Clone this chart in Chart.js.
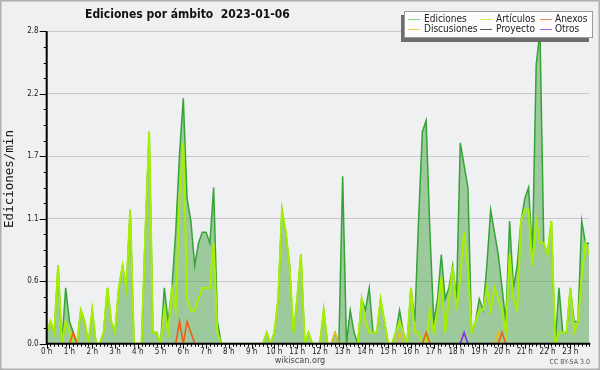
<!DOCTYPE html>
<html>
<head>
<meta charset="utf-8">
<script src="https://cdn.jsdelivr.net/npm/chart.js@4.4.1/dist/chart.umd.min.js"></script>
<style>
  html, body { margin: 0; padding: 0; background: #eff0f2; }
  canvas { display: block; }
</style>
</head>
<body>
<canvas id="chart" width="600" height="370"></canvas>
<script>
// 10-minute bins, 144 per day, values in edits/min
const ediciones = [
  0.1, 0.2, 0.1, 0.7, 0, 0.5, 0.2, 0.1, 0, 0.3, 0.2, 0,
  0.3, 0, 0, 0.1, 0.5, 0.2, 0.1, 0.5, 0.7, 0.5, 1.2, 0,
  0, 0, 1.0, 1.9, 0.1, 0.1, 0, 0.5, 0.2, 0.5, 1.0, 1.7,
  2.2, 1.3, 1.1, 0.7, 0.9, 1.0, 1.0, 0.9, 1.4, 0.2, 0, 0,
  0, 0, 0, 0, 0, 0, 0, 0, 0, 0, 0.1, 0,
  0.1, 0.4, 1.2, 1.0, 0.7, 0.1, 0.4, 0.8, 0, 0.1, 0, 0,
  0, 0.3, 0, 0, 0.1, 0, 1.5, 0, 0.3, 0.1, 0, 0.4,
  0.3, 0.5, 0.1, 0.1, 0.4, 0.2, 0, 0, 0.1, 0.3, 0.1, 0,
  0.5, 0.2, 1.1, 1.9, 2.0, 1.0, 0.2, 0.4, 0.8, 0.4, 0.5, 0.7,
  0.4, 1.8, 1.6, 1.4, 0.1, 0.2, 0.4, 0.3, 0.7, 1.2, 1.0, 0.8,
  0.5, 0.2, 1.1, 0.5, 0.7, 1.1, 1.3, 1.4, 0.8, 2.5, 2.8, 0.9,
  0.8, 1.1, 0, 0.5, 0.1, 0.1, 0.5, 0.2, 0.2, 1.1, 0.9, 0.9
];
const articulos = [
  0.1, 0.2, 0.1, 0.7, 0, 0.2, 0.1, 0, 0, 0.3, 0.2, 0,
  0.3, 0, 0, 0.1, 0.5, 0.2, 0.1, 0.5, 0.7, 0.5, 1.2, 0,
  0, 0, 1.0, 1.9, 0.1, 0.1, 0, 0.3, 0.1, 0.5, 0.3, 1.3,
  1.8, 0.4, 0.3, 0.3, 0.4, 0.5, 0.5, 0.5, 0.9, 0.1, 0, 0,
  0, 0, 0, 0, 0, 0, 0, 0, 0, 0, 0.1, 0,
  0.1, 0.4, 1.2, 1.0, 0.7, 0.1, 0.4, 0.8, 0, 0.1, 0, 0,
  0, 0.3, 0, 0, 0, 0, 0, 0, 0, 0, 0, 0.4,
  0.2, 0.1, 0.1, 0.1, 0.4, 0.2, 0, 0, 0.1, 0.2, 0.1, 0,
  0.5, 0.1, 0.1, 0, 0, 0.3, 0.1, 0.3, 0.6, 0.1, 0.4, 0.7,
  0.3, 0.6, 1.0, 0.7, 0.1, 0.2, 0.3, 0.3, 0.5, 0.3, 0.5, 0.4,
  0.3, 0.1, 0.8, 0.4, 0.3, 1.1, 1.2, 1.2, 0.7, 1.1, 0.9, 0.9,
  0.8, 1.1, 0, 0.1, 0.1, 0.1, 0.5, 0.1, 0.2, 0.6, 0.9, 0.8
];
const anexos = [
  0, 0, 0, 0, 0, 0, 0, 0.1, 0, 0, 0, 0,
  0, 0, 0, 0, 0, 0, 0, 0, 0, 0, 0, 0,
  0, 0, 0, 0, 0, 0, 0, 0, 0, 0, 0, 0.2,
  0, 0.2, 0.1, 0, 0, 0, 0, 0, 0, 0, 0, 0,
  0, 0, 0, 0, 0, 0, 0, 0, 0, 0, 0, 0,
  0, 0, 0, 0, 0, 0, 0, 0, 0, 0, 0, 0,
  0, 0, 0, 0, 0, 0, 0, 0, 0, 0, 0, 0,
  0, 0, 0, 0, 0, 0, 0, 0, 0, 0, 0, 0,
  0, 0, 0, 0, 0.1, 0, 0, 0, 0, 0, 0, 0,
  0, 0, 0, 0, 0, 0, 0, 0, 0, 0, 0, 0,
  0.1, 0, 0, 0, 0, 0, 0, 0, 0, 0, 0, 0,
  0, 0, 0, 0, 0, 0, 0, 0, 0, 0, 0, 0
];
const discusiones = [
  0, 0, 0, 0, 0, 0, 0, 0, 0, 0, 0, 0,
  0, 0, 0, 0, 0, 0, 0, 0, 0, 0, 0, 0,
  0, 0, 0, 0, 0, 0, 0, 0, 0, 0, 0, 0,
  0, 0, 0, 0, 0, 0, 0, 0, 0, 0, 0, 0,
  0, 0, 0, 0, 0, 0, 0, 0, 0, 0, 0, 0,
  0, 0, 0, 0, 0, 0, 0, 0, 0, 0, 0, 0,
  0, 0, 0, 0, 0.1, 0, 0, 0, 0, 0, 0, 0,
  0, 0, 0, 0, 0, 0, 0, 0, 0, 0.1, 0, 0,
  0, 0, 0, 0, 0, 0, 0, 0, 0, 0, 0, 0,
  0, 0, 0, 0, 0, 0, 0, 0, 0, 0, 0, 0.1,
  0, 0, 0, 0, 0, 0, 0, 0, 0, 0, 0, 0,
  0, 0, 0, 0, 0, 0, 0, 0, 0, 0, 0, 0
];
const proyecto = [
  0, 0, 0, 0, 0, 0, 0, 0, 0, 0, 0, 0,
  0, 0, 0, 0, 0, 0, 0, 0, 0, 0, 0, 0,
  0, 0, 0, 0, 0, 0, 0, 0, 0, 0, 0, 0,
  0, 0, 0, 0, 0, 0, 0, 0, 0, 0, 0, 0,
  0, 0, 0, 0, 0, 0, 0, 0, 0, 0, 0, 0,
  0, 0, 0, 0, 0, 0, 0, 0, 0, 0, 0, 0,
  0, 0, 0, 0, 0, 0, 0, 0, 0, 0, 0, 0,
  0, 0, 0, 0, 0, 0, 0, 0, 0, 0, 0, 0,
  0, 0, 0, 0, 0, 0, 0, 0, 0, 0, 0, 0,
  0, 0, 0, 0, 0, 0, 0, 0, 0, 0, 0, 0,
  0, 0, 0, 0, 0, 0, 0, 0, 0, 0, 0, 0,
  0, 0, 0, 0, 0, 0, 0, 0, 0, 0, 0, 0
];
const otros = [
  0, 0, 0, 0, 0, 0, 0, 0, 0, 0, 0, 0,
  0, 0, 0, 0, 0, 0, 0, 0, 0, 0, 0, 0,
  0, 0, 0, 0, 0, 0, 0, 0, 0, 0, 0, 0,
  0, 0, 0, 0, 0, 0, 0, 0, 0, 0, 0, 0,
  0, 0, 0, 0, 0, 0, 0, 0, 0, 0, 0, 0,
  0, 0, 0, 0, 0, 0, 0, 0, 0, 0, 0, 0,
  0, 0, 0, 0, 0, 0, 0, 0, 0, 0, 0, 0,
  0, 0, 0, 0, 0, 0, 0, 0, 0, 0, 0, 0,
  0, 0, 0, 0, 0, 0, 0, 0, 0, 0, 0, 0,
  0, 0, 0.1, 0, 0, 0, 0, 0, 0, 0, 0, 0,
  0, 0, 0, 0, 0, 0, 0, 0, 0, 0, 0, 0,
  0, 0, 0, 0, 0, 0, 0, 0, 0, 0, 0, 0
];

const seriesNames = ["Ediciones", "Artículos", "Anexos", "Discusiones", "Proyecto", "Otros"];
const titleText = "Ediciones por ámbito  2023-01-06";
const yTitle = "Ediciones/min";
const yMax = 2.8;
const yStep = 0.14;      // minor step, labels every 4th
const binsPerHour = 6;

const COND = '"DejaVu Sans Condensed", "DejaVu Sans", sans-serif';

const toPoints = (arr) => arr.map((v, i) => ({ x: i, y: v }));

/* ---------- plugins ---------- */
const background = {
  id: "background",
  beforeDraw(chart) {
    const { ctx, width, height } = chart;
    ctx.save();
    ctx.fillStyle = "#eff0f2";
    ctx.fillRect(0, 0, width, height);
    ctx.restore();
  },
};

const axisLines = {
  id: "axisLines",
  afterDatasetsDraw(chart) {
    const { ctx, chartArea: a, scales } = chart;
    const x = scales.x, y = scales.y;
    ctx.save();
    ctx.strokeStyle = "#000";
    ctx.lineWidth = 1;
    ctx.beginPath();
    x.ticks.forEach((t) => {
      const px = Math.round(x.getPixelForValue(t.value)) + 0.5;
      const len = t.value % binsPerHour === 0 ? 5 : 3;
      ctx.moveTo(px, a.bottom);
      ctx.lineTo(px, a.bottom + len);
    });
    y.ticks.forEach((t, i) => {
      const py = Math.round(y.getPixelForValue(t.value)) + 0.5;
      const len = i % 4 === 0 ? 7 : 3;
      ctx.moveTo(a.left - len, py);
      ctx.lineTo(a.left, py);
    });
    ctx.stroke();
    ctx.lineWidth = 2;
    ctx.beginPath();
    ctx.moveTo(a.left, a.top);
    ctx.lineTo(a.left, a.bottom);
    ctx.lineTo(a.right + 1, a.bottom);
    ctx.stroke();
    ctx.restore();
  },
};

const decorations = {
  id: "decorations",
  afterDraw(chart) {
    const { ctx, width, height } = chart;
    ctx.save();

    // title
    ctx.fillStyle = "#111";
    ctx.font = "bold 12px " + COND;
    ctx.textAlign = "left";
    ctx.textBaseline = "alphabetic";
    ctx.fillText(titleText, 85, 18);

    // y axis title
    ctx.save();
    ctx.translate(10, 179);
    ctx.rotate(-Math.PI / 2);
    ctx.textAlign = "center";
    ctx.textBaseline = "middle";
    ctx.font = '12.5px "DejaVu Sans Mono", monospace';
    ctx.fillText(yTitle, 0, 0);
    ctx.restore();

    // legend box with shadow
    ctx.fillStyle = "#6e6e6e";
    ctx.fillRect(401, 15, 188, 27);
    ctx.fillStyle = "#fcfcfc";
    ctx.fillRect(404.5, 11.5, 188, 26);
    ctx.strokeStyle = "#9a9a9a";
    ctx.lineWidth = 1;
    ctx.strokeRect(404.5, 11.5, 188, 26);

    const colX = [408, 480, 540];
    const textX = [424, 496, 555];
    const rowY = [19, 29];
    ctx.font = "10px " + COND;
    ctx.textBaseline = "middle";
    chart.data.datasets.forEach((ds, k) => {
      const c = k % 3, r = Math.floor(k / 3);
      ctx.strokeStyle = ds.swatch;
      ctx.beginPath();
      ctx.moveTo(colX[c], rowY[r] + 0.5);
      ctx.lineTo(colX[c] + 12, rowY[r] + 0.5);
      ctx.stroke();
      ctx.fillStyle = "#222";
      ctx.fillText(ds.label, textX[c], rowY[r] + 0.5);
    });

    // footer
    ctx.textBaseline = "alphabetic";
    ctx.textAlign = "center";
    ctx.fillStyle = "#444";
    ctx.font = "9px " + COND;
    ctx.fillText("wikiscan.org", 300, 363);
    ctx.textAlign = "right";
    ctx.fillStyle = "#555";
    ctx.font = "7px " + COND;
    ctx.fillText("CC BY-SA 3.0", 590, 364);

    // frame
    ctx.strokeStyle = "#b0b0b0";
    ctx.lineWidth = 1.5;
    ctx.strokeRect(0.75, 0.75, width - 1.5, height - 1.5);
    ctx.restore();
  },
};

/* ---------- chart ---------- */
const lineBase = { pointRadius: 0, borderWidth: 1.6, tension: 0, fill: false };

new Chart(document.getElementById("chart"), {
  type: "line",
  data: {
    datasets: [
      { ...lineBase, label: seriesNames[0], data: toPoints(ediciones), order: 3,
        borderColor: "#34a434", backgroundColor: "rgba(40,150,40,0.42)", fill: "origin",
        borderWidth: 1.5, swatch: "#86d486" },
      { ...lineBase, label: seriesNames[1], data: toPoints(articulos), order: 2,
        borderColor: "#a8ee00", borderWidth: 2, swatch: "#cfee5c" },
      { ...lineBase, label: seriesNames[2], data: toPoints(anexos), order: 1,
        borderColor: "#ec6014", swatch: "#f08850" },
      { ...lineBase, label: seriesNames[3], data: toPoints(discusiones), order: 1,
        borderColor: "#ecbc1c", swatch: "#f6cc4c" },
      { ...lineBase, label: seriesNames[4], data: toPoints(proyecto), order: 1,
        borderColor: "#555555", swatch: "#555555" },
      { ...lineBase, label: seriesNames[5], data: toPoints(otros), order: 1,
        borderColor: "#8c2ce0", swatch: "#a45cf0" },
    ],
  },
  options: {
    responsive: false,
    devicePixelRatio: 1,
    animation: false,
    events: [],
    layout: { padding: { top: 31.3, right: 10.7, bottom: 0, left: 0 } },
    plugins: {
      legend: { display: false },
      tooltip: { enabled: false },
    },
    scales: {
      x: {
        type: "linear",
        min: 0,
        max: ediciones.length - 1,
        afterFit: (s) => { s.height = 26.3; },
        border: { display: false },
        grid: { display: false, drawTicks: false },
        ticks: {
          stepSize: 1,
          autoSkip: false,
          maxTicksLimit: 200,
          maxRotation: 0,
          padding: 3,
          color: "#222",
          font: { family: COND, size: 8 },
          callback: (v) => (v % binsPerHour === 0 ? v / binsPerHour + " h" : ""),
        },
      },
      y: {
        min: 0,
        max: yMax,
        afterFit: (s) => { s.width = 46.7; },
        border: { display: false },
        grid: {
          drawTicks: false,
          lineWidth: 1,
          color: (c) => (c.index % 4 === 0 && c.index > 0 ? "#c8c8c8" : "rgba(0,0,0,0)"),
        },
        ticks: {
          stepSize: yStep,
          autoSkip: false,
          maxTicksLimit: 100,
          padding: 8,
          color: "#222",
          font: { family: COND, size: 8 },
          callback: (v, i) => (i % 4 === 0 ? v.toFixed(1) : ""),
        },
      },
    },
  },
  plugins: [background, axisLines, decorations],
});
</script>
</body>
</html>
